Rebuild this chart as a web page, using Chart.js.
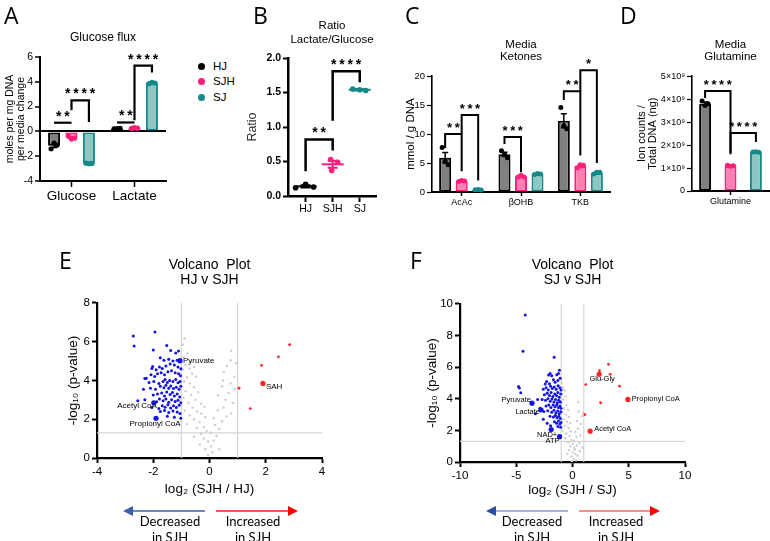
<!DOCTYPE html>
<html><head><meta charset="utf-8"><title>Metabolic figure</title>
<script src="https://cdn.jsdelivr.net/npm/chart.js@4.4.1/dist/chart.umd.min.js"></script>
<style>
html,body{margin:0;padding:0;background:#fff;}
#fig{position:relative;width:770px;height:541px;overflow:hidden;background:#fff;font-family:"Liberation Sans",Arial,sans-serif;color:#000;}
canvas{position:absolute;}
.lt{position:absolute;font-family:"Open Sans",sans-serif;font-size:23px;line-height:1;}
.leg{position:absolute;left:198px;font-size:11.5px;line-height:14px;}
.leg i{display:inline-block;width:7px;height:7px;border-radius:50%;margin-right:8px;vertical-align:-0px;}
.note{position:absolute;font-family:Lato,"Open Sans",sans-serif;font-size:13px;line-height:16px;text-align:center;width:100px;}
svg{position:absolute;left:0;top:0;}
</style></head>
<body><div id="fig">
<canvas id="cA" width="180" height="207" style="left:0;top:0"></canvas>
<canvas id="cB" width="145" height="222" style="left:235px;top:0"></canvas>
<canvas id="cC" width="235" height="215" style="left:380px;top:0"></canvas>
<canvas id="cD" width="155" height="215" style="left:615px;top:0"></canvas>
<canvas id="cE" width="300" height="250" style="left:40px;top:250px"></canvas>
<canvas id="cF" width="300" height="254" style="left:400px;top:250px"></canvas>

<div class="lt" style="left:4px;top:4px">A</div>
<div class="lt" style="left:253px;top:4px">B</div>
<div class="lt" style="left:405px;top:4px">C</div>
<div class="lt" style="left:620px;top:4px">D</div>
<div class="lt" style="left:59px;top:249px">E</div>
<div class="lt" style="left:410px;top:249px">F</div>

<div class="leg" style="top:59px"><i style="background:#000"></i>HJ</div>
<div class="leg" style="top:74px"><i style="background:#ff1f7a"></i>SJH</div>
<div class="leg" style="top:90px"><i style="background:#17898a"></i>SJ</div>

<svg width="770" height="541">
  <line x1="205" y1="511" x2="131" y2="511" stroke="#3c5fa8" stroke-width="1.5"/>
  <polygon points="123,511 133,506 133,516" fill="#3c5fa8"/>
  <line x1="216" y1="511" x2="290" y2="511" stroke="#ff1a1a" stroke-width="1.5"/>
  <polygon points="298,511 288,506 288,516" fill="#ff0000"/>
  <line x1="568" y1="511" x2="494" y2="511" stroke="#a3b3da" stroke-width="2"/>
  <polygon points="486,511 496,506 496,516" fill="#2d4ea0"/>
  <line x1="579" y1="511" x2="652" y2="511" stroke="#ff8c8c" stroke-width="2"/>
  <polygon points="660,511 650,506 650,516" fill="#ff0000"/>
</svg>
<div class="note" style="left:120px;top:513px">Decreased<br>in SJH</div>
<div class="note" style="left:203px;top:513px">Increased<br>in SJH</div>
<div class="note" style="left:482px;top:513px">Decreased<br>in SJH</div>
<div class="note" style="left:566px;top:513px">Increased<br>in SJH</div>
</div>

<script>
// ---------------- DATA ----------------
const groupNames = ['HJ', 'SJH', 'SJ'];

// A: Glucose flux
const fluxCategories = ['Glucose', 'Lactate'];
const fluxHJ = [-1.15, 0.22];
const fluxSJH = [-0.52, 0.27];
const fluxSJ = [-2.58, 3.90];
const fluxHJErr = [0.14, 0.02];
const fluxSJHErr = [0.06, 0.02];
const fluxSJErr = [0.03, 0.04];
const fluxHJReps = [[-1.40, -0.95, -1.10], [0.20, 0.22, 0.24]];
const fluxSJHReps = [[-0.40, -0.62, -0.55], [0.25, 0.30, 0.26]];
const fluxSJReps = [[-2.56, -2.60, -2.58], [3.85, 3.95, 3.90]];

// B: Ratio Lactate/Glucose
const ratioMeans = [0.14, 0.46, 1.54];
const ratioErr = [0.015, 0.05, 0.01];
const ratioReps = [[0.12, 0.17, 0.13], [0.53, 0.49, 0.37], [1.55, 1.54, 1.53]];

// C: Media ketones
const ketoneCategories = ['AcAc', 'βOHB', 'TKB'];
const ketoneHJ = [5.9, 6.5, 12.3];
const ketoneSJH = [1.9, 2.7, 4.5];
const ketoneSJ = [0.4, 3.1, 3.3];
const ketoneHJErr = [0.9, 0.35, 1.2];
const ketoneSJHErr = [0.1, 0.15, 0.25];
const ketoneSJErr = [0.05, 0.1, 0.15];
const ketoneHJReps = [[7.7, 5.3, 4.7], [7.1, 6.5, 5.9], [14.6, 11.4, 10.9]];
const ketoneSJHReps = [[1.8, 2.0, 1.9], [2.6, 2.9, 2.6], [4.2, 4.7, 4.6]];
const ketoneSJReps = [[0.40, 0.45, 0.35], [3.0, 3.2, 3.1], [3.1, 3.4, 3.4]];

// D: Media glutamine
const glnCategories = ['Glutamine'];
const glnHJ = [3.8e9];
const glnSJH = [1.1e9];
const glnSJ = [1.7e9];
const glnHJErr = [0.07e9];
const glnSJHErr = [0.02e9];
const glnSJErr = [0.01e9];
const glnHJReps = [[3.92e9, 3.72e9, 3.80e9]];
const glnSJHReps = [[1.12e9, 1.08e9, 1.10e9]];
const glnSJReps = [[1.70e9, 1.71e9, 1.69e9]];

// Significance annotations (dataset index, category index), heights in data units
const fluxStars = [
  {from: [0, 0], to: [1, 0], legA: 0.70, top: 0.70, legB: 0.70, text: '**'},
  {from: [1, 0], to: [2, 0], legA: 1.7, top: 2.5, legB: 0.75, text: '****'},
  {from: [0, 1], to: [1, 1], legA: 0.72, top: 0.72, legB: 0.72, text: '**'},
  {from: [1, 1], to: [2, 1], legA: 0.9, top: 5.3, legB: 4.75, text: '****'}
];
const ratioStars = [
  {from: [0, 0], to: [0, 1], legA: 0.36, top: 0.82, legB: 0.66, text: '**'},
  {from: [0, 1], to: [0, 2], legA: 1.09, top: 1.81, legB: 1.65, text: '****'}
];
const ketoneStars = [
  {from: [0, 0], to: [1, 0], legA: 7.6, top: 10.0, legB: 3.6, text: '**'},
  {from: [1, 0], to: [2, 0], legA: 10.0, top: 13.3, legB: 2.0, text: '***'},
  {from: [0, 1], to: [1, 1], legA: 8.3, top: 9.5, legB: 3.4, text: '***'},
  {from: [0, 2], to: [1, 2], legA: 15.9, top: 17.4, legB: 6.3, text: '**'},
  {from: [1, 2], to: [2, 2], legA: 17.4, top: 21.0, legB: 5.0, text: '*'}
];
const glnStars = [
  {from: [0, 0], to: [1, 0], legA: 4.05e9, top: 4.35e9, legB: 1.6e9, text: '****'},
  {from: [1, 0], to: [2, 0], legA: 1.65e9, top: 2.52e9, legB: 2.13e9, text: '****'}
];

// E: volcano HJ v SJH  [log2 FC, -log10 p]
const hjBlue = [
  [-2.71,6.30],[-2.68,5.78],[-1.94,6.50],[-2.00,5.57],[-1.52,5.80],[-1.38,5.55],[-1.10,5.52],[-1.20,5.42],[-1.75,5.17],[-1.62,5.05],[-1.45,5.10],[-1.30,5.00],[-1.15,5.05],
  [-2.02,4.72],[-2.05,4.62],[-1.90,4.55],[-1.78,4.70],[-1.68,4.62],[-1.55,4.75],[-1.40,4.85],[-1.25,4.80],[-1.12,4.70],[-1.02,4.60],
  [-2.25,4.12],[-2.30,4.10],[-2.08,4.30],[-1.95,4.20],[-1.85,4.35],[-1.72,4.40],[-1.60,4.30],[-1.48,4.45],[-1.35,4.50],[-1.22,4.40],[-1.10,4.35],[-1.03,4.25],
  [-2.15,3.90],[-1.98,3.95],[-1.80,3.85],[-1.65,3.95],[-1.58,4.05],[-1.50,3.90],[-1.42,4.00],[-1.30,3.95],[-1.20,4.05],[-1.12,3.88],[-1.05,3.95],
  [-2.35,3.55],[-2.10,3.60],[-1.92,3.55],[-1.75,3.70],[-1.62,3.62],[-1.55,3.75],[-1.45,3.60],[-1.38,3.72],[-1.28,3.58],[-1.18,3.65],[-1.08,3.55],[-1.02,3.70],
  [-2.00,3.25],[-1.85,3.30],[-1.70,3.35],[-1.60,3.20],[-1.52,3.40],[-1.40,3.28],[-1.32,3.38],[-1.25,3.20],[-1.15,3.30],[-1.06,3.15],
  [-2.55,2.95],[-2.30,3.00],[-1.88,2.90],[-1.78,3.05],[-1.65,2.95],[-1.55,3.05],[-1.45,2.88],[-1.35,3.00],[-1.22,2.92],[-1.12,2.98],[-1.02,2.85],
  [-2.05,2.60],[-1.80,2.55],[-1.68,2.70],[-1.58,2.62],[-1.48,2.75],[-1.38,2.58],[-1.28,2.70],[-1.18,2.60],[-1.08,2.72],
  [-1.75,2.40],[-1.60,2.45],[-1.45,2.35],[-1.30,2.42],[-1.15,2.38],[-1.05,2.30],[-1.50,2.15],[-1.25,2.10],[-1.02,2.05]
];
const hjRed = [[2.85,5.85],[2.45,5.22],[1.85,4.78],[1.05,3.60],[1.45,2.55]];
const hjGray = [
  [-0.89,6.17],[-0.95,5.85],[-0.78,5.40],[-0.92,5.20],[-0.66,4.95],[-0.85,4.80],[-0.71,4.62],[-0.55,4.70],[-0.95,4.55],[-0.62,4.35],[-0.80,4.15],[-0.48,4.20],
  [-0.90,3.95],[-0.70,3.85],[-0.55,3.65],[-0.85,3.45],[-0.40,3.40],[-0.65,3.25],[-0.92,3.10],[-0.50,3.00],[-0.75,2.85],[-0.30,2.80],[-0.60,2.60],[-0.18,2.64],
  [-0.88,2.45],[-0.45,2.40],[-0.30,2.29],[-0.70,2.20],[-0.15,2.10],[-0.55,2.00],[-0.35,1.85],[-0.80,1.75],[-0.20,1.60],[-0.45,1.55],[-0.10,1.40],[-0.30,1.25],
  [-0.55,1.10],[-0.20,1.00],[-0.05,0.85],[-0.35,0.70],[0.05,0.60],[-0.15,0.45],[0.10,0.30],[-0.05,0.15],[0.15,0.90],[0.25,1.15],[0.05,1.30],[0.35,1.50],
  [0.20,1.70],[0.45,1.90],[0.15,2.05],[0.60,2.15],[0.30,2.45],[0.77,2.29],[0.50,2.60],[0.83,2.84],[0.57,3.00],[0.30,3.24],[0.68,3.35],[0.90,3.55],
  [0.45,3.70],[0.75,3.85],[0.48,4.00],[0.88,4.20],[0.51,4.45],[0.62,4.75],[0.75,5.05],[0.77,5.53],[0.95,4.90],[0.35,0.45]
];
const hjLabelNames = ['Pyruvate', 'Acetyl CoA', 'Propionyl CoA', 'SAH'];
const hjLabelX = [-1.05, -1.98, -1.90, 1.90];
const hjLabelY = [5.02, 2.85, 2.05, 3.85];
const hjLabelUp = [false, false, false, true];

// F: volcano SJ v SJH
const sjBlue = [
  [-4.20,9.30],[-4.40,7.00],[-1.63,6.63],[-4.80,4.77],[-4.72,4.68],[-4.60,4.38],[-3.10,3.95],
  [-1.16,5.80],[-1.99,5.60],[-2.13,5.50],[-1.85,5.45],[-1.40,5.52],[-1.25,5.60],[-2.43,4.94],[-2.30,5.10],[-1.70,5.20],[-1.55,5.05],[-1.30,5.15],[-1.10,5.30],[-2.05,4.95],
  [-2.60,4.60],[-2.35,4.70],[-2.15,4.55],[-1.95,4.80],[-1.80,4.65],[-1.62,4.75],[-1.45,4.60],[-1.28,4.82],[-1.12,4.70],[-1.02,4.55],
  [-2.50,4.25],[-2.25,4.35],[-2.05,4.20],[-1.90,4.40],[-1.75,4.15],[-1.58,4.30],[-1.42,4.20],[-1.30,4.40],[-1.18,4.10],[-1.05,4.30],
  [-2.70,3.95],[-2.40,3.90],[-2.18,4.00],[-1.98,3.85],[-1.82,3.98],[-1.65,3.80],[-1.50,3.95],[-1.35,3.75],[-1.22,3.90],[-1.08,3.80],
  [-2.35,3.55],[-2.10,3.60],[-1.92,3.45],[-1.72,3.60],[-1.55,3.50],[-1.40,3.62],[-1.25,3.45],[-1.12,3.55],[-1.02,3.40],
  [-2.55,3.20],[-2.20,3.25],[-1.85,3.15],[-1.65,3.28],[-1.48,3.10],[-1.32,3.22],[-1.18,3.05],[-1.05,3.18],
  [-2.00,2.90],[-1.70,2.85],[-1.52,2.95],[-1.38,2.80],[-1.22,2.90],[-1.08,2.75],
  [-1.60,2.55],[-1.42,2.45],[-1.25,2.60],[-1.12,2.40],[-1.02,2.50],[-1.30,2.25],[-1.05,2.20],
  [-2.90,3.40],[-3.30,3.05],[-2.60,2.70],[-2.25,2.45],[-1.95,2.30]
];
const sjRed = [[3.20,6.18],[2.40,5.78],[3.35,5.55],[1.18,4.90],[4.18,4.80],[2.50,3.75],[1.10,3.00]];
const sjGray = [
  [-0.95,5.00],[-0.85,4.70],[-0.70,4.55],[-0.90,4.30],[-0.60,4.15],[-0.80,3.95],[-0.95,3.70],[-0.55,3.60],[-0.75,3.40],[-0.40,3.30],[-0.90,3.15],[-0.60,3.00],
  [-0.30,2.85],[-0.80,2.70],[-0.50,2.55],[-0.20,2.45],[-0.70,2.30],[-0.35,2.15],[-0.90,2.00],[-0.15,1.95],[-0.55,1.80],[-0.25,1.65],[-0.65,1.50],[-0.10,1.40],
  [-0.40,1.25],[0.05,1.15],[-0.20,1.00],[0.15,0.90],[-0.30,0.75],[0.00,0.60],[0.25,0.50],[-0.10,0.35],[0.10,0.20],[0.30,0.10],[-0.05,0.05],[0.20,0.80],
  [0.40,1.05],[0.10,1.35],[0.35,1.60],[0.60,1.20],[0.25,1.90],[0.50,2.10],[0.75,2.40],[0.40,2.60],[0.85,2.90],[0.55,3.20],[0.53,3.80],[0.95,3.10],
  [0.70,1.70],[0.90,0.90],[0.45,0.40],[0.65,0.70],[-0.45,0.50]
];
const sjLabelNames = ['Pyruvate', 'Lactate', 'NAD+', 'ATP', 'Glu-Gly', 'Propionyl CoA', 'Acetyl CoA'];
const sjLabelX = [-3.60, -2.80, -1.90, -1.15, 2.37, 4.92, 1.57];
const sjLabelY = [3.72, 3.30, 2.05, 1.60, 5.55, 3.96, 1.95];
const sjLabelUp = [false, false, false, false, true, true, true];

// ---------------- STYLE ----------------
const FONT = '"Liberation Sans", Arial, sans-serif';
Chart.defaults.font.family = FONT;
Chart.defaults.color = '#000';
const FILL = ['#808080', '#ff80b0', '#8dc7c3'];
const LINE = ['#000000', '#ff1f7a', '#17898a'];
const DOT = ['#000000', '#ff1f7a', '#17898a'];
const BLUE = '#1212e6', RED = '#ff2424', GRAY = '#cdcdcd';

// label placement for volcano annotations (pixels)
const hjPlace = {
  'Pyruvate': {align: 'left', dx: 3, dy: 0},
  'Acetyl CoA': {align: 'right', dx: 3, dy: 3},
  'Propionyl CoA': {align: 'center', dx: -1, dy: 6},
  'SAH': {align: 'left', dx: 3, dy: 3}
};
const sjPlace = {
  'Pyruvate': {align: 'right', dx: -1, dy: -3},
  'Lactate': {align: 'right', dx: -1, dy: 2},
  'NAD+': {align: 'center', dx: -4, dy: 5},
  'ATP': {align: 'right', dx: 0, dy: 4},
  'Glu-Gly': {align: 'center', dx: 3, dy: 5},
  'Propionyl CoA': {align: 'left', dx: 4, dy: 0},
  'Acetyl CoA': {align: 'left', dx: 4, dy: -2}
};

// ---------------- PLUGINS ----------------
const marksPlugin = {
  id: 'marks',
  afterDatasetsDraw(chart, args, o) {
    if (!o || !o.series) return;
    const ctx = chart.ctx, xs = chart.scales.x, ys = chart.scales.y;
    const X = (di, ci) => o.linear ? xs.getPixelForValue(ci) : chart.getDatasetMeta(di).data[ci].x;
    const Y = v => ys.getPixelForValue(v);
    ctx.save();
    o.series.forEach((s, di) => {
      s.mean.forEach((m, ci) => {
        const cx = X(di, ci);
        const col = s.colors ? s.colors[ci] : s.color;
        const dcol = s.dots ? s.dots[ci] : s.dot;
        ctx.strokeStyle = col; ctx.lineWidth = o.errWidth;
        if (o.meanHalf) {
          ctx.beginPath(); ctx.moveTo(cx - o.meanHalf, Y(m)); ctx.lineTo(cx + o.meanHalf, Y(m)); ctx.stroke();
        }
        const e = s.err[ci];
        if (e) {
          ctx.beginPath();
          ctx.moveTo(cx, Y(m - e)); ctx.lineTo(cx, Y(m + e));
          ctx.moveTo(cx - o.cap, Y(m + e)); ctx.lineTo(cx + o.cap, Y(m + e));
          ctx.moveTo(cx - o.cap, Y(m - e)); ctx.lineTo(cx + o.cap, Y(m - e));
          ctx.stroke();
        }
        const jit = Array.isArray(o.jitter[0]) ? o.jitter[ci] : o.jitter;
        ctx.fillStyle = dcol;
        s.reps[ci].forEach((v, k) => {
          ctx.beginPath(); ctx.arc(cx + jit[k % jit.length], Y(v), o.r, 0, Math.PI * 2); ctx.fill();
        });
      });
    });
    ctx.strokeStyle = '#000'; ctx.lineWidth = o.bracketWidth; ctx.lineJoin = 'miter'; ctx.lineCap = 'butt';
    ctx.fillStyle = '#000'; ctx.font = o.starFont; ctx.textAlign = 'center'; ctx.textBaseline = 'alphabetic';
    (o.brackets || []).forEach(b => {
      const x1 = X(b.from[0], b.from[1]), x2 = X(b.to[0], b.to[1]);
      ctx.beginPath();
      ctx.moveTo(x1, Y(b.legA)); ctx.lineTo(x1, Y(b.top)); ctx.lineTo(x2, Y(b.top)); ctx.lineTo(x2, Y(b.legB));
      ctx.stroke();
      ctx.fillText(b.text.split('').join('\u2009'), (x1 + x2) / 2, Y(b.top) + o.starDy);
    });
    ctx.restore();
  }
};

const volcPlugin = {
  id: 'volc',
  beforeDatasetsDraw(chart, args, o) {
    if (!o || !o.names) return;
    const ctx = chart.ctx, xs = chart.scales.x, ys = chart.scales.y;
    ctx.save();
    ctx.strokeStyle = '#d6d6d6'; ctx.lineWidth = 1.2;
    ctx.beginPath();
    [-1, 1].forEach(v => { const px = xs.getPixelForValue(v); ctx.moveTo(px, ys.getPixelForValue(ys.min)); ctx.lineTo(px, ys.getPixelForValue(ys.max)); });
    const hy = ys.getPixelForValue(-Math.log10(0.05));
    ctx.moveTo(xs.getPixelForValue(xs.min), hy); ctx.lineTo(xs.getPixelForValue(xs.max), hy);
    ctx.stroke();
    ctx.restore();
  },
  afterDatasetsDraw(chart, args, o) {
    if (!o || !o.names) return;
    const ctx = chart.ctx, xs = chart.scales.x, ys = chart.scales.y;
    ctx.save();
    ctx.fillStyle = '#000'; ctx.font = o.font; ctx.textBaseline = 'middle';
    o.names.forEach((n, i) => {
      const p = o.place[n];
      ctx.textAlign = p.align;
      ctx.fillText(n, xs.getPixelForValue(o.xs[i]) + p.dx, ys.getPixelForValue(o.ys[i]) + p.dy);
    });
    ctx.restore();
  }
};
Chart.register(marksPlugin, volcPlugin);

// ---------------- HELPERS ----------------
function barSet(gi, data, cp, bp) {
  return {label: groupNames[gi], data, backgroundColor: FILL[gi], borderColor: LINE[gi], borderWidth: 2,
    borderSkipped: false, categoryPercentage: cp, barPercentage: bp};
}
function titleOpt(text, size, lh, top, bottom) {
  return {display: true, text, fullSize: false, color: '#000', font: {size, family: FONT, weight: 'normal', lineHeight: lh}, padding: {top, bottom}};
}
function axisLine(w) { return {display: true, color: '#000', width: w}; }
function xCat(size, height, tick) {
  return {grid: {display: true, offset: false, drawOnChartArea: false, tickLength: tick, tickColor: '#000', tickWidth: 1.5},
    border: axisLine(2), ticks: {font: {size}, color: '#000', padding: 1, maxRotation: 0, autoSkip: false},
    afterFit: s => { s.height = height; }};
}
function base(padRight, title, scales, plugins) {
  return {responsive: false, animation: false, events: [],
    layout: {padding: {left: 0, right: padRight, top: 0, bottom: 0}},
    plugins: Object.assign({legend: {display: false}, tooltip: {enabled: false}, title}, plugins),
    scales};
}

// ---------------- A ----------------
new Chart(document.getElementById('cA'), {
  type: 'bar',
  data: {labels: fluxCategories, datasets: [
    barSet(0, fluxHJ, 0.83, 0.69), barSet(1, fluxSJH, 0.83, 0.69), barSet(2, fluxSJ, 0.83, 0.69)]},
  options: base(14, titleOpt('Glucose flux', 12, 1.2, 30, 12.6), {
    x: xCat(13.5, 26, 6),
    y: {min: -4, max: 6, ticks: {stepSize: 2, font: {size: 10.5}, color: '#000', padding: 2},
      border: axisLine(2),
      grid: {color: c => (c.tick && c.tick.value === 0) ? '#000' : 'rgba(0,0,0,0)', lineWidth: 2,
        tickColor: '#000', tickLength: 5, tickWidth: 1.5},
      title: {display: true, text: ['moles per mg DNA', 'per media change'], font: {size: 10.5, lineHeight: 1.05}, color: '#000', padding: {top: 4.5, bottom: 0}},
      afterFit: s => { s.width = 40; }}
  }, {marks: {
    series: [
      {mean: fluxHJ, err: fluxHJErr, reps: fluxHJReps, color: LINE[0], dot: DOT[0]},
      {mean: fluxSJH, err: fluxSJHErr, reps: fluxSJHReps, color: LINE[1], dot: DOT[1]},
      {mean: fluxSJ, err: fluxSJErr, reps: fluxSJReps, color: LINE[2], dot: DOT[2]}],
    jitter: [-3, 0, 3], r: 2.6, errWidth: 1.5, cap: 3,
    brackets: fluxStars, bracketWidth: 2.2, starFont: 'bold 14px ' + FONT, starDy: -2}})
});

// ---------------- B ----------------
new Chart(document.getElementById('cB'), {
  type: 'scatter',
  data: {datasets: [{data: ratioMeans.map((m, i) => ({x: i, y: m})), pointRadius: 0, showLine: false}]},
  options: base(4, titleOpt(['Ratio', 'Lactate/Glucose'], 11.5, 1.22, 19, 11), {
    x: {type: 'linear', min: -0.65, max: 2.6,
      afterBuildTicks: s => { s.ticks = [0, 1, 2].map(v => ({value: v})); },
      ticks: {callback: v => groupNames[v], font: {size: 10.5}, color: '#000', padding: 1},
      grid: {drawOnChartArea: false, tickLength: 6, tickColor: '#000', tickWidth: 2},
      border: axisLine(2.5), afterFit: s => { s.height = 26; }},
    y: {min: 0, max: 2, ticks: {stepSize: 0.5, font: {size: 10.5, weight: 'bold'}, color: '#000', padding: 2, callback: v => v.toFixed(1)},
      grid: {drawOnChartArea: false, tickLength: 5, tickColor: '#000', tickWidth: 2},
      border: axisLine(2.5),
      title: {display: true, text: 'Ratio', font: {size: 12.5}, color: '#333', padding: {top: 10, bottom: 0}},
      afterFit: s => { s.width = 53; }}
  }, {marks: {
    linear: true,
    series: [{mean: ratioMeans, err: ratioErr, reps: ratioReps, colors: LINE, dots: DOT}],
    jitter: [[-10, 0, 8], [-2, 5, -1], [-7, 0, 6]], r: 2.8, errWidth: 2, cap: 5, meanHalf: 11,
    brackets: ratioStars, bracketWidth: 2.5, starFont: 'bold 14px ' + FONT, starDy: -2}})
});

// ---------------- C ----------------
new Chart(document.getElementById('cC'), {
  type: 'bar',
  data: {labels: ketoneCategories, datasets: [
    barSet(0, ketoneHJ, 0.835, 0.73), barSet(1, ketoneSJH, 0.835, 0.73), barSet(2, ketoneSJ, 0.835, 0.73)]},
  options: base(5, titleOpt(['Media', 'Ketones'], 11.5, 1.05, 39, 13), {
    x: xCat(9, 23, 4),
    y: {min: 0, max: 20, ticks: {stepSize: 5, font: {size: 9.5}, color: '#000', padding: 2},
      grid: {drawOnChartArea: false, tickLength: 5, tickColor: '#000', tickWidth: 1.2},
      border: axisLine(1.6),
      title: {display: true, text: 'mmol / g DNA', font: {size: 11.5}, color: '#000', padding: {top: 24, bottom: 0}},
      afterFit: s => { s.width = 52; }}
  }, {marks: {
    series: [
      {mean: ketoneHJ, err: ketoneHJErr, reps: ketoneHJReps, color: LINE[0], dot: DOT[0]},
      {mean: ketoneSJH, err: ketoneSJHErr, reps: ketoneSJHReps, color: LINE[1], dot: DOT[1]},
      {mean: ketoneSJ, err: ketoneSJErr, reps: ketoneSJReps, color: LINE[2], dot: DOT[2]}],
    jitter: [-3, 0, 3], r: 2.5, errWidth: 1.5, cap: 3,
    brackets: ketoneStars, bracketWidth: 2, starFont: 'bold 13px ' + FONT, starDy: -2}})
});

// ---------------- D ----------------
new Chart(document.getElementById('cD'), {
  type: 'bar',
  data: {labels: glnCategories, datasets: [
    barSet(0, glnHJ, 0.99, 0.47), barSet(1, glnSJH, 0.99, 0.47), barSet(2, glnSJ, 0.99, 0.47)]},
  options: base(1, titleOpt(['Media', 'Glutamine'], 11.5, 1.05, 39, 13), {
    x: xCat(9, 24, 4),
    y: {min: 0, max: 5e9, ticks: {stepSize: 1e9, font: {size: 9}, color: '#000', padding: 2,
        callback: v => v === 0 ? '0' : Math.round(v / 1e9) + '×10⁹'},
      grid: {drawOnChartArea: false, tickLength: 5, tickColor: '#000', tickWidth: 1.2},
      border: axisLine(1.6),
      title: {display: true, text: ['Ion counts /', 'Total DNA (ng)'], font: {size: 11, lineHeight: 0.95}, color: '#000', padding: {top: 22, bottom: 0}},
      afterFit: s => { s.width = 77; }}
  }, {marks: {
    series: [
      {mean: glnHJ, err: glnHJErr, reps: glnHJReps, color: LINE[0], dot: DOT[0]},
      {mean: glnSJH, err: glnSJHErr, reps: glnSJHReps, color: LINE[1], dot: DOT[1]},
      {mean: glnSJ, err: glnSJErr, reps: glnSJReps, color: LINE[2], dot: DOT[2]}],
    jitter: [-3, 0, 3], r: 2.5, errWidth: 1.5, cap: 3,
    brackets: glnStars, bracketWidth: 2, starFont: 'bold 13px ' + FONT, starDy: -2}})
});

// ---------------- Volcano ----------------
const pts = a => a.map(p => ({x: p[0], y: p[1]}));
function volcano(id, cfg) {
  const labelPts = cfg.lx.map((x, i) => ({x, y: cfg.ly[i]}));
  return new Chart(document.getElementById(id), {
    type: 'scatter',
    data: {datasets: [
      {data: labelPts, pointRadius: 2.6, pointBackgroundColor: cfg.lup.map(u => u ? RED : BLUE), borderWidth: 0},
      {data: pts(cfg.red), pointRadius: 1.4, backgroundColor: RED, borderWidth: 0},
      {data: pts(cfg.blue), pointRadius: 1.5, backgroundColor: BLUE, borderWidth: 0},
      {data: pts(cfg.gray), pointRadius: 1.2, backgroundColor: GRAY, borderWidth: 0}
    ]},
    options: base(cfg.padRight, titleOpt(cfg.title, 14, 1.07, 7.5, cfg.tBottom), {
      x: {type: 'linear', min: cfg.xmin, max: cfg.xmax,
        ticks: {stepSize: cfg.xstep, font: {size: 11.5}, color: '#000', padding: 2},
        grid: {drawOnChartArea: false, tickLength: 5, tickColor: '#000', tickWidth: 2},
        border: axisLine(2.2),
        title: {display: true, text: cfg.xtitle, font: {size: 13.5}, color: '#000', padding: {top: 0, bottom: cfg.xtPad}},
        afterFit: s => { s.height = 42; }},
      y: {min: 0, max: cfg.ymax,
        ticks: {stepSize: 2, font: {size: 11.5}, color: '#000', padding: 2},
        grid: {drawOnChartArea: false, tickLength: 5, tickColor: '#000', tickWidth: 2},
        border: axisLine(2.2),
        title: {display: true, text: '-log₁₀ (p-value)', font: {size: 13.5}, color: '#000', padding: {top: cfg.ytPad, bottom: 0}},
        afterFit: s => { s.width = cfg.yw; }}
    }, {volc: {names: cfg.names, xs: cfg.lx, ys: cfg.ly, place: cfg.place, font: cfg.labelFont}})
  });
}
volcano('cE', {title: ['Volcano  Plot', 'HJ v SJH'], xmin: -4, xmax: 4, xstep: 2, ymax: 8,
  xtitle: 'log₂ (SJH / HJ)', blue: hjBlue, red: hjRed, gray: hjGray,
  names: hjLabelNames, lx: hjLabelX, ly: hjLabelY, lup: hjLabelUp, place: hjPlace, labelFont: '8px ' + FONT,
  padRight: 18, tBottom: 15.5, yw: 57, ytPad: 25, xtPad: 3});
volcano('cF', {title: ['Volcano  Plot', 'SJ v SJH'], xmin: -10, xmax: 10, xstep: 5, ymax: 10,
  xtitle: 'log₂ (SJH / SJ)', blue: sjBlue, red: sjRed, gray: sjGray,
  names: sjLabelNames, lx: sjLabelX, ly: sjLabelY, lup: sjLabelUp, place: sjPlace, labelFont: '7.5px ' + FONT,
  padRight: 15, tBottom: 16.5, yw: 60, ytPad: 24, xtPad: 6});
</script>
</body></html>
